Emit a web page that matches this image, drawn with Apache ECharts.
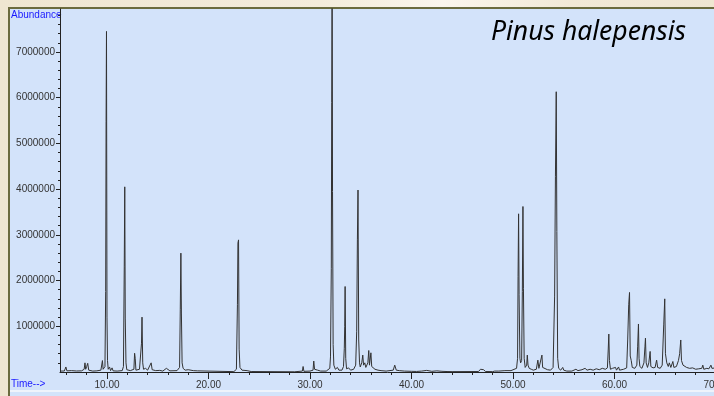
<!DOCTYPE html>
<html>
<head>
<meta charset="utf-8">
<script src="https://cdn.jsdelivr.net/npm/echarts@6/dist/echarts.min.js"></script>
<style>
  html, body { margin: 0; padding: 0; }
  body { background: linear-gradient(90deg, #efe6d1 0%, #f4ecdb 45%, #fbf6ec 62%, #f2e9d6 80%, #efe6d1 100%); }
  #chart { width: 714px; height: 396px; }
</style>
</head>
<body>
<div id="chart"></div>
<script>
// retention time (min) and abundance
var retentionTime = [
  5.4, 5.8, 5.95, 6.05, 6.5, 7.0, 7.5, 7.75, 7.83, 7.9, 8.0, 8.1, 8.2, 8.6, 9.0, 9.4, 9.55, 9.62, 9.8,
  9.87, 9.91, 9.95, 10.0, 10.05, 10.12, 10.25, 10.35, 10.5, 10.6, 11.0, 11.5, 11.62, 11.7, 11.75, 11.8,
  11.87, 11.95, 12.3, 12.65, 12.72, 12.78, 12.85, 13.2, 13.4, 13.45, 13.52, 13.6, 13.8, 14.0, 14.35,
  14.45, 14.8, 15.2, 15.5, 15.85, 15.95, 16.2, 16.9, 17.15, 17.22, 17.28, 17.33, 17.4, 17.5, 17.7, 18.0,
  18.5, 18.9, 19.0, 22.5, 22.75, 22.85, 22.9, 22.96, 23.02, 23.1, 23.3, 23.8, 24.2, 28.5, 29.25, 29.32,
  29.4, 30.0, 30.3, 30.37, 30.45, 30.6, 30.75, 30.9, 31.05, 31.6, 31.95, 32.02, 32.1, 32.14, 32.18, 32.22,
  32.28, 32.35, 32.5, 32.7, 32.85, 33.0, 33.15, 33.3, 33.38, 33.42, 33.46, 33.52, 33.6, 33.8, 34.0, 34.3,
  34.5, 34.6, 34.67, 34.73, 34.8, 34.88, 34.95, 35.1, 35.2, 35.28, 35.4, 35.5, 35.7, 35.79, 35.86, 36.0,
  36.08, 36.2, 36.4, 36.7, 37.0, 37.5, 38.2, 38.35, 38.5, 38.8, 39.3, 40.0, 40.5, 41.0, 41.5, 42.0, 42.5,
  43.0, 43.5, 44.0, 46.6, 46.8, 46.9, 47.1, 47.3, 48.0, 48.2, 48.6, 49.2, 49.8, 50.35, 50.45, 50.5, 50.55,
  50.6, 50.68, 50.75, 50.85, 50.92, 50.98, 51.03, 51.1, 51.2, 51.35, 51.41, 51.48, 51.6, 51.8, 52.0, 52.3,
  52.45, 52.55, 52.7, 52.85, 52.92, 53.1, 53.4, 53.7, 53.95, 54.1, 54.18, 54.26, 54.32, 54.4, 54.5, 54.7,
  54.9, 55.0, 55.3, 55.8, 56.2, 56.4, 56.8, 57.1, 57.3, 57.6, 57.9, 58.2, 58.5, 58.8, 59.1, 59.3, 59.38,
  59.44, 59.5, 59.6, 59.8, 59.93, 60.1, 60.2, 60.4, 60.5, 60.9, 61.2, 61.3, 61.4, 61.48, 61.55, 61.65,
  61.75, 62.0, 62.2, 62.28, 62.36, 62.42, 62.5, 62.7, 62.9, 63.0, 63.05, 63.12, 63.25, 63.38, 63.51, 63.58,
  63.8, 64.0, 64.15, 64.25, 64.5, 64.7, 64.85, 64.95, 65.02, 65.15, 65.3, 65.4, 65.55, 65.75, 65.85, 66.1,
  66.3, 66.42, 66.53, 66.6, 66.75, 66.9, 67.1, 67.4, 67.7, 68.0, 68.3, 68.6, 68.7, 68.8, 69.1, 69.3, 69.5,
  69.6, 69.75, 70.0
];
var abundance = [
  20000, 22000, 110000, 25000, 30000, 22000, 25000, 60000, 200000, 60000, 120000, 190000, 40000, 20000, 25000, 40000, 250000, 60000, 120000,
  1760000, 5480000, 7450000, 1200000, 250000, 60000, 110000, 30000, 90000, 25000, 20000, 30000, 120000, 2300000, 4050000, 1180000,
  200000, 50000, 30000, 60000, 410000, 300000, 40000, 60000, 630000, 1200000, 200000, 60000, 80000, 40000, 200000,
  50000, 30000, 35000, 20000, 80000, 60000, 25000, 30000, 100000, 1360000, 2600000, 1290000, 200000, 80000, 40000, 50000,
  30000, 25000, 10000, 8000, 60000, 1470000, 2820000, 2890000, 500000, 100000, 40000, 30000, 10000, 5000, 20000, 120000,
  15000, 20000, 40000, 240000, 60000, 90000, 40000, 80000, 20000, 20000, 80000, 330000, 2270000, 5890000, 9500000, 3950000,
  600000, 150000, 60000, 100000, 40000, 80000, 40000, 120000, 520000, 990000, 1870000, 300000, 70000, 90000, 40000, 60000,
  150000, 880000, 2890000, 3980000, 700000, 200000, 110000, 200000, 370000, 150000, 200000, 100000, 200000, 470000, 150000, 420000,
  120000, 80000, 60000, 40000, 30000, 20000, 40000, 150000, 40000, 30000, 20000, 15000, 12000, 20000, 35000, 15000, 25000,
  15000, 10000, 8000, 10000, 60000, 20000, 50000, 10000, 8000, 20000, 20000, 30000, 30000, 80000, 300000, 2090000, 3460000,
  1690000, 300000, 200000, 250000, 1760000, 3620000, 1820000, 300000, 100000, 150000, 370000, 150000, 80000, 60000, 40000, 60000,
  260000, 80000, 120000, 370000, 100000, 60000, 50000, 40000, 100000, 1660000, 4270000, 6130000, 3070000, 300000, 80000, 40000,
  100000, 40000, 20000, 20000, 60000, 30000, 50000, 80000, 40000, 60000, 40000, 70000, 50000, 80000, 60000, 90000, 480000,
  830000, 250000, 60000, 80000, 50000, 100000, 40000, 110000, 40000, 60000, 90000, 700000, 1470000, 1740000, 350000, 250000,
  100000, 80000, 150000, 550000, 1050000, 300000, 120000, 80000, 200000, 550000, 740000, 200000, 100000, 200000, 450000, 120000,
  90000, 100000, 260000, 100000, 80000, 150000, 1030000, 1600000, 400000, 200000, 120000, 200000, 100000, 230000, 100000, 120000,
  250000, 400000, 700000, 250000, 150000, 120000, 100000, 80000, 90000, 60000, 70000, 80000, 150000, 60000, 80000, 70000, 150000,
  80000, 90000, 90000
];

var xMajorTicks = [10, 20, 30, 40, 50, 60, 70];
var xMinorTicks = [6, 8, 12, 14, 16, 18, 22, 24, 26, 28, 32, 34, 36, 38, 42, 44, 46, 48, 52, 54, 56, 58, 62, 64, 66, 68];
var yLabels = [1000000, 2000000, 3000000, 4000000, 5000000, 6000000, 7000000];
var yMinorTicks = [];
for (var v = 200000; v <= 7800000; v += 200000) yMinorTicks.push(v);

var chart = echarts.init(document.getElementById('chart'));

var points = retentionTime.map(function (t, i) { return [t, abundance[i]]; });

var option = {
  animation: false,
  backgroundColor: 'transparent',
  graphic: [
    { type: 'rect', z: -10, shape: { x: 9, y: 8, width: 710, height: 394 },
      style: { fill: '#d3e3fa', stroke: '#6b6b3e', lineWidth: 2 } },
    { type: 'rect', z: -9, shape: { x: 10, y: 390, width: 704, height: 2 },
      style: { fill: '#eef3fb' } },
    { type: 'text', left: 11, top: 10,
      style: { text: 'Abundance', fill: '#1a1aff', font: '10px "Liberation Sans", Arial, sans-serif' } },
    { type: 'text', left: 11, top: 379,
      style: { text: 'Time-->', fill: '#1a1aff', font: '10px "Liberation Sans", Arial, sans-serif' } },
    { type: 'text', left: 491, top: 19,
      style: { text: 'Pinus halepensis', fill: '#000', font: 'italic 26.5px "Noto Sans", sans-serif' } }
  ],
  grid: { left: 60, right: -2, top: 9, bottom: 24, containLabel: false, outerBoundsMode: 'none' },
  xAxis: [
    {
      type: 'value', min: 5.37, max: 70, position: 'bottom',
      axisLine: { lineStyle: { color: '#222', width: 1 } },
      axisTick: { customValues: xMinorTicks, length: 3, lineStyle: { color: '#222' } },
      axisLabel: { customValues: xMajorTicks, margin: 8, fontSize: 10, color: '#333',
        fontFamily: '"Liberation Sans", Arial, sans-serif', hideOverlap: false,
        formatter: function (v) { return v.toFixed(2); } },
      splitLine: { show: false }
    },
    {
      type: 'value', min: 5.37, max: 70, position: 'bottom',
      axisLine: { show: false },
      axisTick: { customValues: xMajorTicks, length: 7, lineStyle: { color: '#222' } },
      axisLabel: { show: false },
      splitLine: { show: false }
    }
  ],
  yAxis: [
    {
      type: 'value', min: 0, max: 7940000, position: 'left',
      axisLine: { show: true, lineStyle: { color: '#222', width: 1 } },
      axisTick: { customValues: yMinorTicks, length: 2, lineStyle: { color: '#222' } },
      axisLabel: { customValues: yLabels, margin: 5, fontSize: 10, color: '#333',
        fontFamily: '"Liberation Sans", Arial, sans-serif',
        formatter: function (v) { return String(v); } },
      splitLine: { show: false }
    },
    {
      type: 'value', min: 0, max: 7940000, position: 'left',
      axisLine: { show: false },
      axisTick: { customValues: yLabels, length: 4, lineStyle: { color: '#222' } },
      axisLabel: { show: false },
      splitLine: { show: false }
    }
  ],
  series: [{
    type: 'line',
    data: points,
    showSymbol: false,
    clip: true,
    lineStyle: { color: '#333333', width: 1 }
  }]
};
chart.setOption(option);
</script>
</body>
</html>
